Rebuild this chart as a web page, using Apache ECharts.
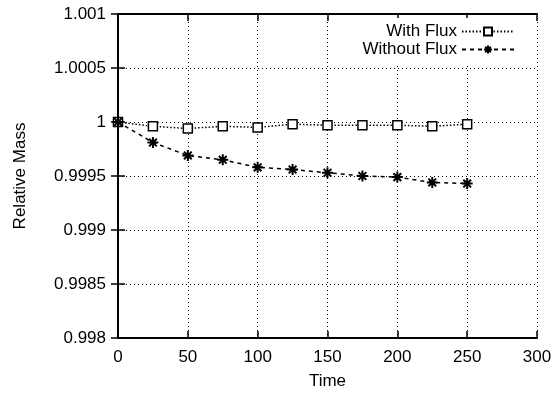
<!DOCTYPE html>
<html><head><meta charset="utf-8">
<script src="https://cdn.jsdelivr.net/npm/echarts@6/dist/echarts.min.js"></script>
<style>html,body{margin:0;padding:0;background:#fff}#c{width:559px;height:395px}</style>
</head><body><div id="c"></div>
<script>
const times = [0, 25, 50, 75, 100, 125, 150, 175, 200, 225, 250];
const withFlux = [1.0, 0.99996, 0.99994, 0.99996, 0.99995, 0.99998, 0.99997, 0.99997, 0.99997, 0.99996, 0.99998];
const withoutFlux = [1.0, 0.99981, 0.99969, 0.99965, 0.99958, 0.99956, 0.99953, 0.9995, 0.99949, 0.99944, 0.99943];
const yTickLabels = ['0.998', '0.9985', '0.999', '0.9995', '1', '1.0005', '1.001'];
const seriesNames = ['With Flux', 'Without Flux'];

const font = 'Liberation Sans, Arial, sans-serif';
const fs = 17;
const chart = echarts.init(document.getElementById('c'));
const star = 'path://M0,5L10,5M5,0L5,10M1.5,1.5L8.5,8.5M8.5,1.5L1.5,8.5';
const yFmt = v => {
  const idx = Math.round((v - 0.998) / 0.0005);
  return yTickLabels[idx] !== undefined ? yTickLabels[idx] : '';
};
const grid = {left: 118, right: 22, top: 14, bottom: 56};
const baseAxisLine = {show: true, lineStyle: {color: '#000', width: 2}};
const tick = {inside: true, length: 7, lineStyle: {color: '#000', width: 1.5}};
chart.setOption({
  animation: false,
  backgroundColor: '#fff',
  grid: grid,
  legend: {
    right: 36, top: 18, orient: 'vertical', align: 'right',
    itemWidth: 52, itemHeight: 10, itemGap: 1,
    padding: [5, 8, 6, 12],
    backgroundColor: '#fff',
    textStyle: {fontFamily: font, fontSize: fs, color: '#000'},
    data: seriesNames
  },
  xAxis: [{
    type: 'value', min: 0, max: 300, interval: 50,
    name: 'Time', nameLocation: 'middle', nameGap: 35,
    nameTextStyle: {fontFamily: font, fontSize: fs, color: '#000'},
    axisLine: baseAxisLine, axisTick: tick,
    axisLabel: {fontFamily: font, fontSize: fs, color: '#000', margin: 11},
    splitLine: {show: true, lineStyle: {color: '#000', type: [1, 3], width: 1}}
  }, {
    type: 'value', min: 0, max: 300, interval: 50, position: 'top',
    axisLine: baseAxisLine, axisTick: tick,
    axisLabel: {show: false}, splitLine: {show: false}
  }],
  yAxis: [{
    type: 'value', min: 0.998, max: 1.001, interval: 0.0005,
    name: 'Relative Mass', nameLocation: 'middle', nameGap: 89,
    nameTextStyle: {fontFamily: font, fontSize: fs, color: '#000'},
    axisLine: baseAxisLine, axisTick: tick,
    axisLabel: {fontFamily: font, fontSize: fs, color: '#000', margin: 12, formatter: yFmt},
    splitLine: {show: true, lineStyle: {color: '#000', type: [1, 3], width: 1}}
  }, {
    type: 'value', min: 0.998, max: 1.001, interval: 0.0005, position: 'right',
    axisLine: baseAxisLine, axisTick: tick,
    axisLabel: {show: false}, splitLine: {show: false}
  }],
  series: [{
    name: seriesNames[0], type: 'line',
    data: times.map((t, i) => [t, withFlux[i]]),
    symbol: 'rect', symbolSize: 9,
    itemStyle: {color: '#fff', borderColor: '#000', borderWidth: 1.5},
    lineStyle: {color: '#000', width: 1.5, type: [1.5, 2]},
    z: 3
  }, {
    name: seriesNames[1], type: 'line',
    data: times.map((t, i) => [t, withoutFlux[i]]),
    symbol: star, symbolSize: 11,
    itemStyle: {color: '#000', borderColor: '#000', borderWidth: 2},
    lineStyle: {color: '#000', width: 1.5, type: [4, 4]},
    z: 4
  }]
});
</script></body></html>
